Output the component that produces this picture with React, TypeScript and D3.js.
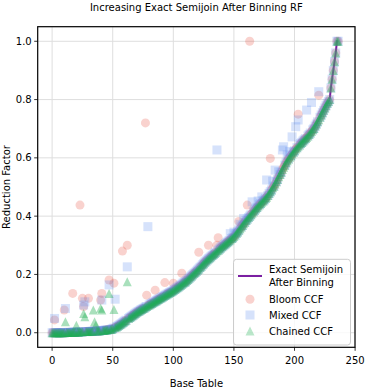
import React from 'react';
import * as d3 from 'd3';

// exact semijoin RF per base table (sorted ascending), index = base table
const exactRF = [
  0, 0, 0, 0, 0, 0, 0, 0, 0, 0,
  0, 0, 0.001, 0.001, 0.001, 0.001, 0.001, 0.002, 0.002, 0.002,
  0.002, 0.002, 0.002, 0.003, 0.003, 0.003, 0.003, 0.003, 0.004, 0.004,
  0.004, 0.004, 0.005, 0.005, 0.005, 0.005, 0.006, 0.006, 0.006, 0.006,
  0.007, 0.007, 0.008, 0.008, 0.009, 0.009, 0.010, 0.010, 0.011, 0.012,
  0.014, 0.016, 0.018, 0.020, 0.022, 0.025, 0.028, 0.031, 0.034, 0.037,
  0.040, 0.043, 0.046, 0.049, 0.052, 0.055, 0.058, 0.061, 0.064, 0.067,
  0.070, 0.073, 0.075, 0.078, 0.080, 0.083, 0.085, 0.088, 0.090, 0.093,
  0.095, 0.098, 0.100, 0.103, 0.105, 0.108, 0.110, 0.113, 0.115, 0.118,
  0.120, 0.123, 0.125, 0.128, 0.130, 0.133, 0.135, 0.138, 0.140, 0.142,
  0.145, 0.148, 0.151, 0.154, 0.157, 0.160, 0.163, 0.166, 0.170, 0.173,
  0.175, 0.179, 0.183, 0.187, 0.191, 0.195, 0.199, 0.203, 0.207, 0.211,
  0.215, 0.219, 0.224, 0.228, 0.233, 0.237, 0.242, 0.246, 0.250, 0.254,
  0.257, 0.261, 0.265, 0.268, 0.272, 0.276, 0.280, 0.283, 0.287, 0.291,
  0.295, 0.298, 0.302, 0.305, 0.309, 0.312, 0.316, 0.319, 0.323, 0.326,
  0.330, 0.335, 0.341, 0.346, 0.352, 0.357, 0.363, 0.368, 0.374, 0.379,
  0.385, 0.390, 0.395, 0.400, 0.405, 0.410, 0.415, 0.420, 0.425, 0.430,
  0.435, 0.439, 0.443, 0.448, 0.452, 0.456, 0.461, 0.465, 0.471, 0.478,
  0.484, 0.490, 0.497, 0.503, 0.510, 0.518, 0.526, 0.535, 0.543, 0.551,
  0.560, 0.568, 0.575, 0.583, 0.590, 0.596, 0.602, 0.607, 0.613, 0.619,
  0.624, 0.630, 0.635, 0.640, 0.644, 0.649, 0.653, 0.658, 0.662, 0.666,
  0.670, 0.675, 0.680, 0.685, 0.690, 0.696, 0.701, 0.709, 0.716, 0.724,
  0.731, 0.739, 0.747, 0.755, 0.763, 0.771, 0.779, 0.787, 0.793, 0.800,
  0.840, 0.870, 0.900, 0.930, 0.960, 1.000, 1.000,
];

// [base table, RF] where the CCF estimate differs from the exact value
const bloomDiff: [number, number][] = [
  [2, 0.044], [10, 0.078], [17, 0.135], [23, 0.438], [25, 0.118], [26, 0.09],
  [30, 0.118], [40, 0.112], [41, 0.135], [47, 0.181], [51, 0.17], [58, 0.28],
  [62, 0.3], [77, 0.72], [78, 0.129], [85, 0.146], [93, 0.172], [100, 0.17],
  [107, 0.204], [121, 0.276], [129, 0.3], [136, 0.3], [137, 0.326], [154, 0.382],
  [161, 0.438], [163, 1.0], [180, 0.598], [203, 0.75], [220, 0.815],
];
const mixedDiff: [number, number][] = [
  [2, 0.049], [11, 0.083], [26, 0.095], [27, 0.106], [41, 0.112], [47, 0.164],
  [52, 0.115], [62, 0.226], [79, 0.364], [136, 0.627], [147, 0.34], [150, 0.345],
  [155, 0.372], [158, 0.392], [165, 0.449], [170, 0.452], [173, 0.466],
  [177, 0.524], [182, 0.52], [184, 0.558], [187, 0.552], [190, 0.627],
  [191, 0.638], [194, 0.61], [196, 0.622], [198, 0.672], [201, 0.707],
  [203, 0.73], [210, 0.764], [214, 0.79], [220, 0.827],
];
const chainedDiff: [number, number][] = [
  [11, 0.038], [20, 0.026], [26, 0.066], [27, 0.055], [34, 0.078], [35, 0.038],
  [36, 0.026], [40, 0.084], [41, 0.078], [47, 0.135], [51, 0.08], [62, 0.175],
];

const xTicks = [0, 50, 100, 150, 200, 250];
const yTicks = [0.0, 0.2, 0.4, 0.6, 0.8, 1.0];

const W = 366, H = 390;
const L = 37.7, R = 355, T = 26.7, B = 347.3;
const FONT = 'DejaVu Sans, sans-serif';
const PURPLE = '#7b1fa2';
const RED = '#e74c3c';
const BLUE = '#5b8def';
const GREEN = '#1cae4e';

const withDiff = (diff: [number, number][]) => {
  const m = new Map(diff);
  return exactRF.map((v, i) => [i, m.has(i) ? (m.get(i) as number) : v] as [number, number]);
};

const tri = (s: number) => `M0,${-s / 2}L${s / 2},${s / 2}L${-s / 2},${s / 2}Z`;

export default function App() {
  const x = d3.scaleLinear().domain([-11.9, 249.9]).range([L, R]);
  const y = d3.scaleLinear().domain([-0.05, 1.05]).range([B, T]);
  const line = d3.line<number>().x((_, i) => x(i)).y(d => y(d));

  const bloom = withDiff(bloomDiff);
  const mixed = withDiff(mixedDiff);
  const chained = withDiff(chainedDiff);
  const ms = 9;

  return (
    <svg width={W} height={H} style={{ position: 'absolute', left: 0, top: 0 }} fontFamily={FONT}>
      <rect width={W} height={H} fill="#fff" />
      <text x={(L + R) / 2} y={10.5} textAnchor="middle" fontSize={10}>
        Increasing Exact Semijoin After Binning RF
      </text>
      {xTicks.map(t => (
        <g key={'x' + t}>
          <line x1={x(t)} x2={x(t)} y1={T} y2={B} stroke="#dedede" strokeWidth={1} />
          <line x1={x(t)} x2={x(t)} y1={B} y2={B + 3.5} stroke="#000" strokeWidth={0.8} />
          <text x={x(t)} y={B + 16.5} textAnchor="middle" fontSize={10}>{t}</text>
        </g>
      ))}
      {yTicks.map(t => (
        <g key={'y' + t}>
          <line x1={L} x2={R} y1={y(t)} y2={y(t)} stroke="#dedede" strokeWidth={1} />
          <line x1={L - 3.5} x2={L} y1={y(t)} y2={y(t)} stroke="#000" strokeWidth={0.8} />
          <text x={L - 6} y={y(t)} dy="0.36em" textAnchor="end" fontSize={10}>{t.toFixed(1)}</text>
        </g>
      ))}
      <path d={line(exactRF) || ''} fill="none" stroke={PURPLE} strokeWidth={2} />
      <g fill={RED} fillOpacity={0.25}>
        {bloom.map(([i, v]) => <circle key={i} cx={x(i)} cy={y(v)} r={ms / 2} />)}
      </g>
      <g fill={BLUE} fillOpacity={0.25}>
        {mixed.map(([i, v]) => <rect key={i} x={x(i) - ms / 2} y={y(v) - ms / 2} width={ms} height={ms} />)}
      </g>
      <g fill={GREEN} fillOpacity={0.38}>
        {chained.map(([i, v]) => <path key={i} d={tri(ms)} transform={`translate(${x(i)},${y(v)})`} />)}
      </g>
      <rect x={L} y={T} width={R - L} height={B - T} fill="none" stroke="#000" strokeWidth={1.2} />
      <text x={(L + R) / 2} y={387} textAnchor="middle" fontSize={10}>Base Table</text>
      <text transform={`translate(10,${(T + B) / 2}) rotate(-90)`} textAnchor="middle" fontSize={10}>
        Reduction Factor
      </text>
      <g fontSize={10}>
        <rect x={233.5} y={259.3} width={117} height={85.7} rx={3} fill="#fff" fillOpacity={0.8} stroke="#cccccc" strokeWidth={1} />
        <line x1={238} x2={262} y1={276} y2={276} stroke={PURPLE} strokeWidth={2} />
        <text x={269} y={272.6}>Exact Semijoin</text>
        <text x={269} y={285.6}>After Binning</text>
        <circle cx={250} cy={299.3} r={ms / 2} fill={RED} fillOpacity={0.25} />
        <text x={269} y={303}>Bloom CCF</text>
        <rect x={250 - ms / 2} y={315 - ms / 2} width={ms} height={ms} fill={BLUE} fillOpacity={0.25} />
        <text x={269} y={318.7}>Mixed CCF</text>
        <path d={tri(ms)} transform="translate(250,331)" fill={GREEN} fillOpacity={0.3} />
        <text x={269} y={334.7}>Chained CCF</text>
      </g>
    </svg>
  );
}
